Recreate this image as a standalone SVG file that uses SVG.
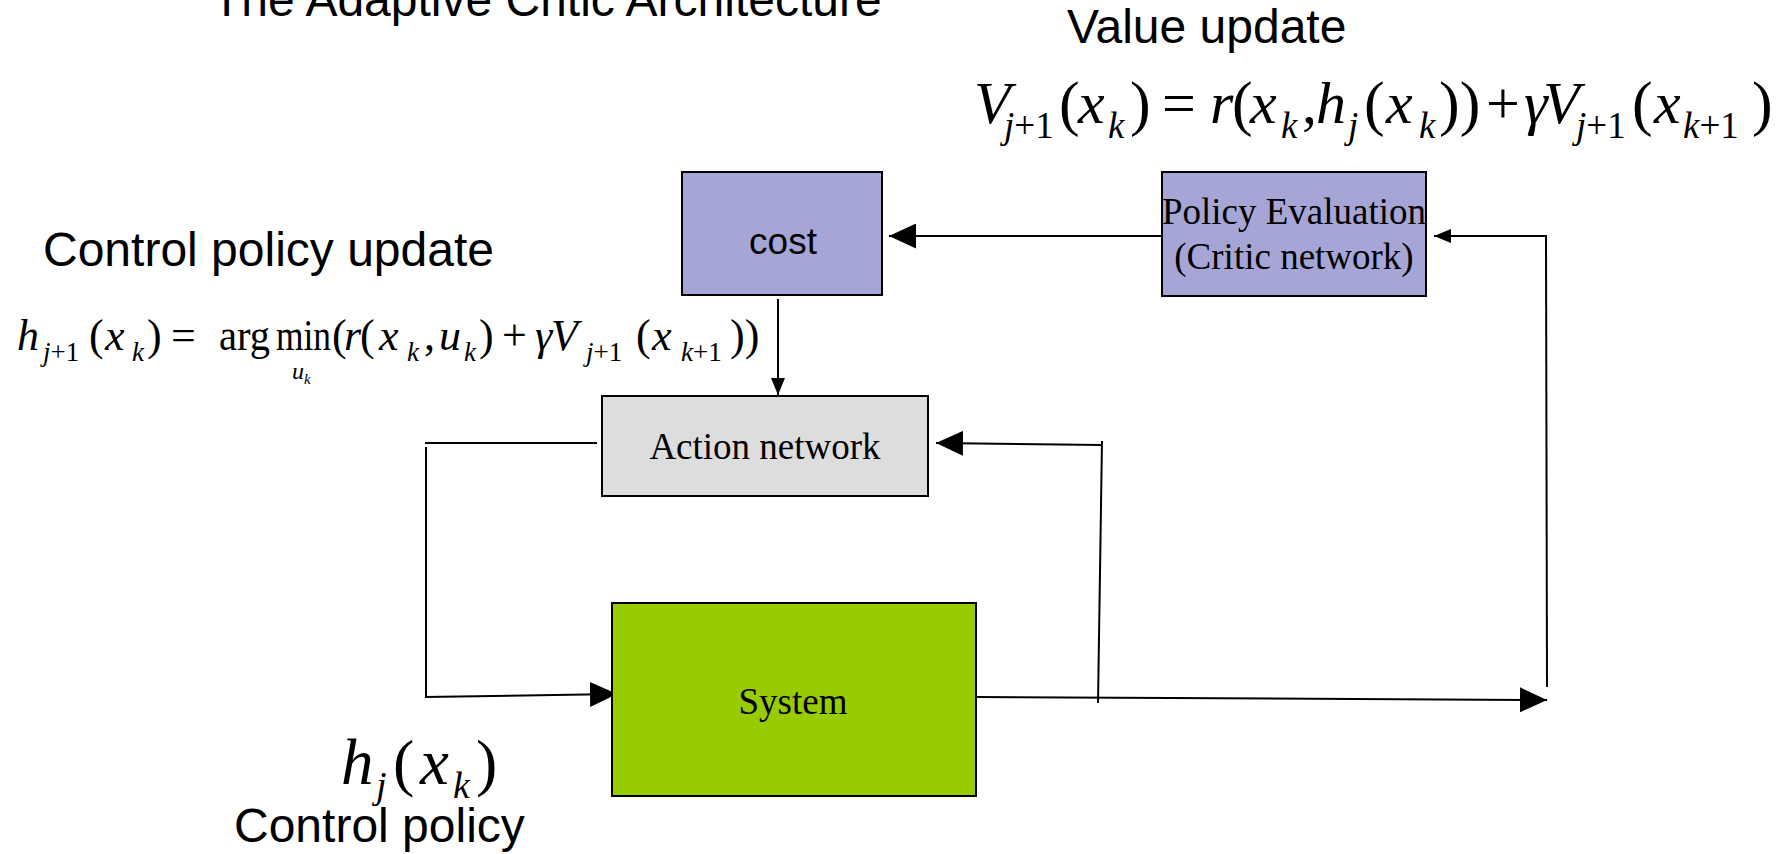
<svg xmlns="http://www.w3.org/2000/svg" width="1790" height="854" viewBox="0 0 1790 854">
<style>
.sans{font-family:"Liberation Sans",Arial,sans-serif;fill:#000}
.lbl{font-size:48px}
.serif{font-family:"Liberation Serif","Times New Roman",serif;fill:#000}
.box{stroke:#000;stroke-width:2}
.line{stroke:#000;stroke-width:2;fill:none}
.it{font-style:italic}
</style>
<defs>
<marker id="big" markerUnits="userSpaceOnUse" markerWidth="27" markerHeight="25" refX="27" refY="12.5" orient="auto"><path d="M0,0 L27,12.5 L0,25 z" fill="#000"/></marker>
<marker id="small" markerUnits="userSpaceOnUse" markerWidth="17" markerHeight="14" refX="17" refY="7" orient="auto"><path d="M0,0 L17,7 L0,14 z" fill="#000"/></marker>
</defs>
<rect width="1790" height="854" fill="#fff"/>

<text class="sans lbl" x="212" y="16">The Adaptive Critic Architecture</text>
<text class="sans lbl" x="1067" y="43">Value update</text>
<text class="sans lbl" x="43" y="266">Control policy update</text>
<text class="sans lbl" x="234" y="842">Control policy</text>

<g id="formula-value" class="serif">
<text x="974" y="123" font-size="60" class="it">V</text>
<text x="1004" y="138" font-size="37"><tspan class="it">j</tspan>+1</text>
<text x="1059" y="124" font-size="62">(</text>
<text x="1078" y="123" font-size="60" class="it">x</text>
<text x="1108" y="138" font-size="37" class="it">k</text>
<text x="1130" y="124" font-size="62">)</text>
<text x="1162" y="123" font-size="60">=</text>
<text x="1210" y="123" font-size="60" class="it">r</text>
<text x="1232" y="124" font-size="62">(</text>
<text x="1250" y="123" font-size="60" class="it">x</text>
<text x="1281" y="138" font-size="37" class="it">k</text>
<text x="1302" y="123" font-size="60">,</text>
<text x="1316" y="123" font-size="60" class="it">h</text>
<text x="1348" y="138" font-size="37" class="it">j</text>
<text x="1364" y="124" font-size="62">(</text>
<text x="1386" y="123" font-size="60" class="it">x</text>
<text x="1419" y="138" font-size="37" class="it">k</text>
<text x="1439" y="124" font-size="62">))</text>
<text x="1486" y="123" font-size="60">+</text>
<text x="1524" y="123" font-size="60" class="it">γ</text>
<text x="1543" y="123" font-size="60" class="it">V</text>
<text x="1576" y="138" font-size="37"><tspan class="it">j</tspan>+1</text>
<text x="1632" y="124" font-size="62">(</text>
<text x="1654" y="123" font-size="60" class="it">x</text>
<text x="1683" y="138" font-size="37"><tspan class="it">k</tspan>+1</text>
<text x="1752" y="124" font-size="62">)</text>
</g>

<g id="formula-policy" class="serif">
<text x="17" y="350" font-size="44" class="it">h</text>
<text x="43" y="361" font-size="27"><tspan class="it">j</tspan>+1</text>
<text x="89" y="350" font-size="44">(</text>
<text x="105" y="350" font-size="44" class="it">x</text>
<text x="132" y="361" font-size="27" class="it">k</text>
<text x="147" y="350" font-size="44">)</text>
<text x="171" y="350" font-size="44">=</text>
<text x="219" y="350" font-size="44" textLength="51" lengthAdjust="spacingAndGlyphs">arg</text>
<text x="276" y="350" font-size="44" textLength="55" lengthAdjust="spacingAndGlyphs">min</text>
<text x="332" y="350" font-size="44">(</text>
<text x="344" y="350" font-size="44" class="it">r</text>
<text x="360" y="350" font-size="44">(</text>
<text x="379" y="350" font-size="44" class="it">x</text>
<text x="407" y="361" font-size="27" class="it">k</text>
<text x="424" y="350" font-size="44">,</text>
<text x="439" y="350" font-size="44" class="it">u</text>
<text x="464" y="361" font-size="27" class="it">k</text>
<text x="479" y="350" font-size="44">)</text>
<text x="502" y="350" font-size="44">+</text>
<text x="535" y="350" font-size="44" class="it">γ</text>
<text x="551" y="350" font-size="44" class="it">V</text>
<text x="586" y="361" font-size="27"><tspan class="it">j</tspan>+1</text>
<text x="636" y="350" font-size="44">(</text>
<text x="652" y="350" font-size="44" class="it">x</text>
<text x="681" y="361" font-size="27"><tspan class="it">k</tspan>+1</text>
<text x="730" y="350" font-size="44">))</text>
<text x="292" y="379" font-size="24" class="it">u</text>
<text x="304" y="384" font-size="15" class="it">k</text>
</g>

<g id="label-hj" class="serif">
<text x="341" y="784" font-size="65" class="it">h</text>
<text x="376" y="798" font-size="38" class="it">j</text>
<text x="393" y="784" font-size="64">(</text>
<text x="420" y="784" font-size="65" class="it">x</text>
<text x="453" y="798" font-size="38" class="it">k</text>
<text x="476" y="784" font-size="64">)</text>
</g>

<g id="connectors">
<line class="line" x1="1162" y1="236" x2="889" y2="236" marker-end="url(#big)"/>
<line class="line" x1="778" y1="299" x2="778" y2="395" marker-end="url(#small)"/>
<line class="line" x1="597" y1="443" x2="425" y2="443"/>
<line class="line" x1="426" y1="447" x2="426" y2="697"/>
<line class="line" x1="425" y1="697" x2="617" y2="694" marker-end="url(#big)"/>
<line class="line" x1="976" y1="697" x2="1547" y2="700" marker-end="url(#big)"/>
<line class="line" x1="1098" y1="703" x2="1102" y2="441"/>
<line class="line" x1="1102" y1="445" x2="936" y2="443" marker-end="url(#big)"/>
<line class="line" x1="1547" y1="687" x2="1546" y2="236"/>
<line class="line" x1="1547" y1="236" x2="1434" y2="236" marker-end="url(#small)"/>
</g>

<g id="cost">
<rect class="box" x="682" y="172" width="200" height="123" fill="#A6A6D6"/>
<text class="sans" x="783" y="254" font-size="37" text-anchor="middle">cost</text>
</g>
<g id="policy-evaluation">
<rect class="box" x="1162" y="172" width="264" height="124" fill="#A6A6D6"/>
<text class="serif" x="1294" y="224" font-size="37" text-anchor="middle">Policy Evaluation</text>
<text class="serif" x="1294" y="269" font-size="37" text-anchor="middle">(Critic network)</text>
</g>
<g id="action-network">
<rect class="box" x="602" y="396" width="326" height="100" fill="#DDDDDD"/>
<text class="serif" x="765" y="459" font-size="37" text-anchor="middle">Action network</text>
</g>
<g id="system">
<rect class="box" x="612" y="603" width="364" height="193" fill="#99CC00"/>
<text class="serif" x="793" y="714" font-size="37" text-anchor="middle">System</text>
</g>
</svg>
